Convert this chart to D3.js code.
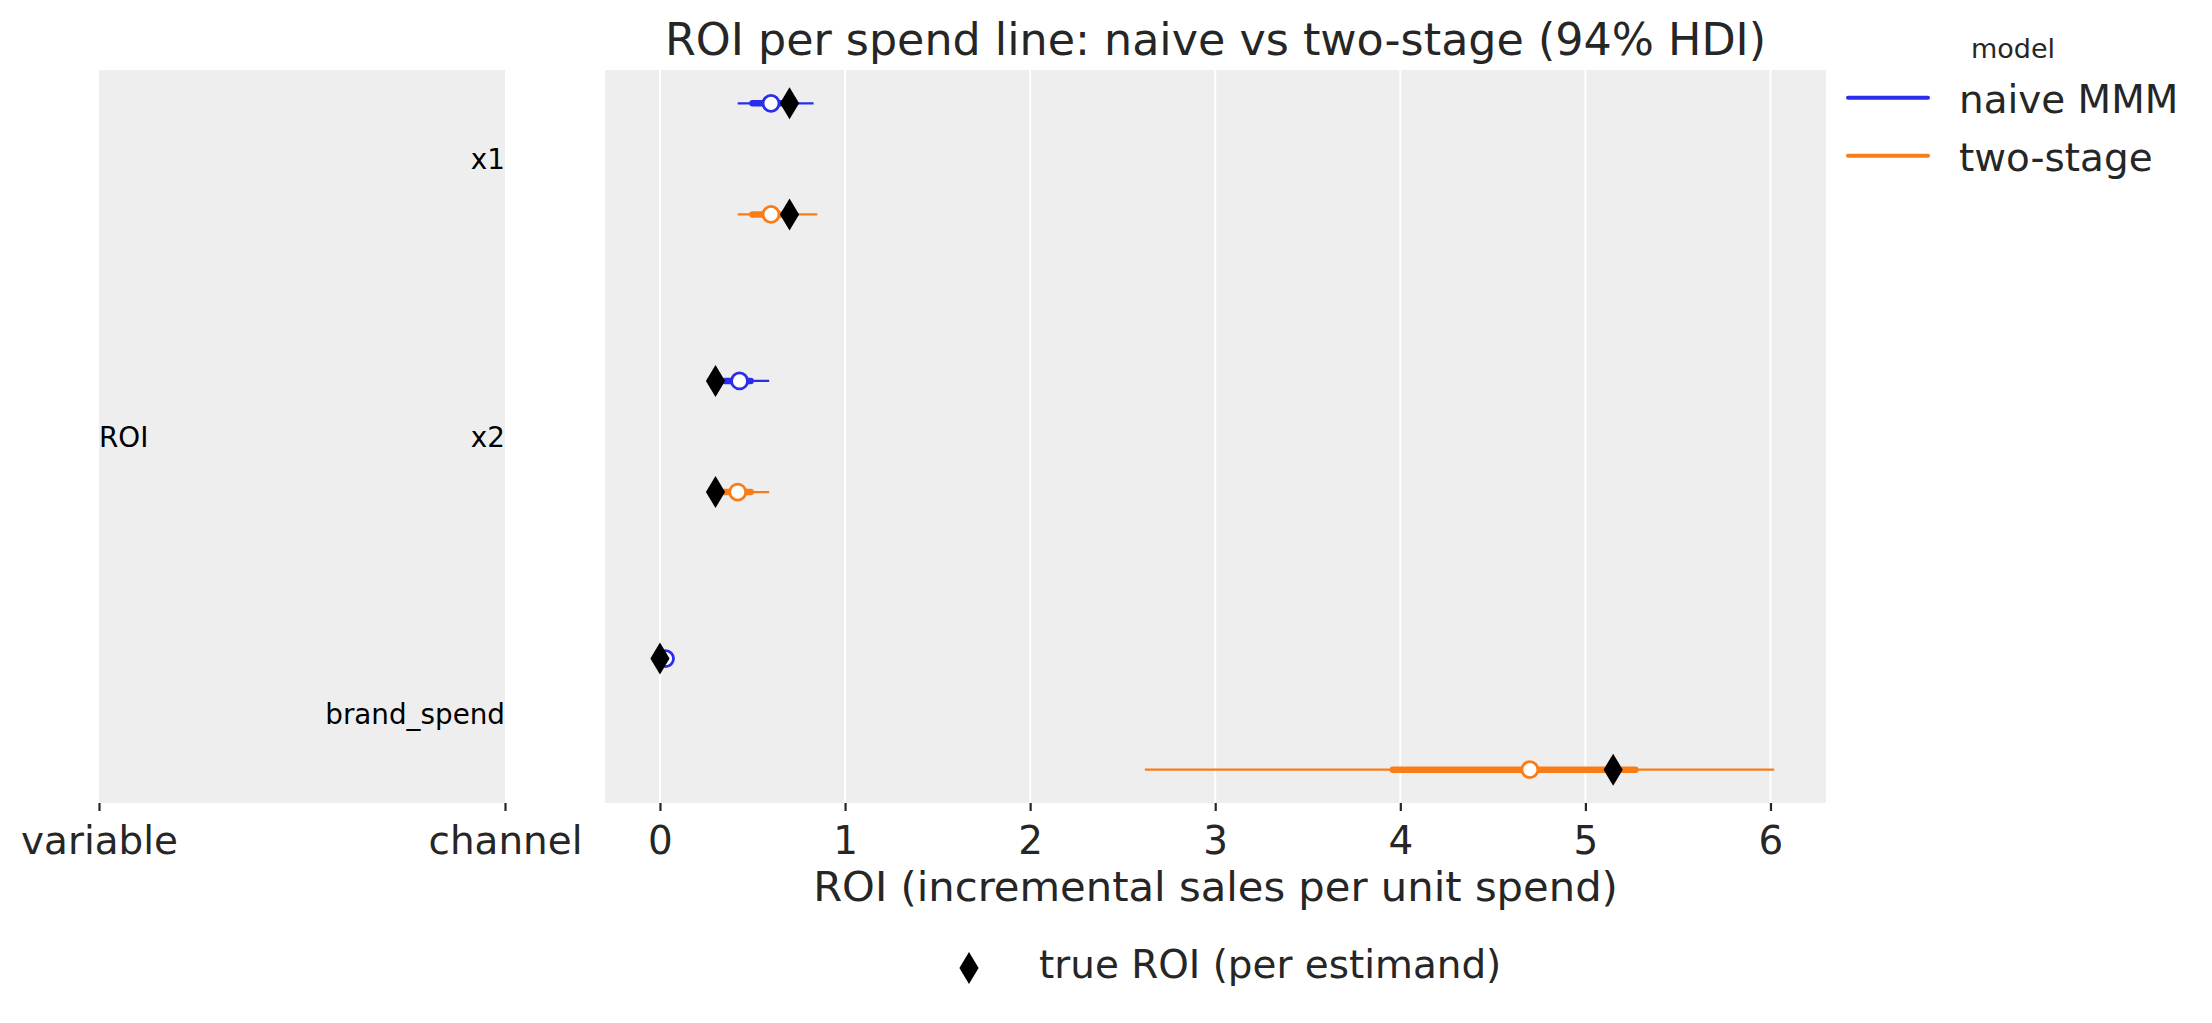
<!DOCTYPE html>
<html>
<head>
<meta charset="utf-8">
<script src="https://cdn.jsdelivr.net/npm/d3@7"></script>
<style>
  html, body { margin: 0; padding: 0; background: #ffffff; }
  svg { display: block; font-family: "DejaVu Sans", sans-serif; }
</style>
</head>
<body>
<svg id="chart" width="2212" height="1023"></svg>
<script>
// ---------------- data ----------------
const channels = ["x1", "x2", "brand_spend"];
const models = ["naive MMM", "two-stage"];
const modelColors = ["#2a2eec", "#fa7c17"];

// posterior medians
const naiveMedian    = [0.60, 0.43, 0.03];
const twoStageMedian = [0.60, 0.42, 4.70];
// 94% HDI (thin line)
const naiveHdiLow     = [0.42, 0.31, 0.00];
const naiveHdiHigh    = [0.83, 0.59, 0.07];
const twoStageHdiLow  = [0.42, 0.30, 2.62];
const twoStageHdiHigh = [0.85, 0.59, 6.02];
// inner interval (thick line)
const naiveInnerLow     = [0.50, 0.35, 0.01];
const naiveInnerHigh    = [0.68, 0.49, 0.05];
const twoStageInnerLow  = [0.50, 0.35, 3.96];
const twoStageInnerHigh = [0.68, 0.49, 5.27];
// true ROI per estimand
const naiveTrueRoi    = [0.70, 0.30, 0.00];
const twoStageTrueRoi = [0.70, 0.30, 5.15];

const xTicks = [0, 1, 2, 3, 4, 5, 6];
const leftTicks = ["variable", "channel"];

const title = "ROI per spend line: naive vs two-stage (94% HDI)";
const xLabel = "ROI (incremental sales per unit spend)";
const legendTitle = "model";
const trueLabel = "true ROI (per estimand)";
const variableName = "ROI";

// assemble rows
const medians = [naiveMedian, twoStageMedian];
const hdiLow = [naiveHdiLow, twoStageHdiLow];
const hdiHigh = [naiveHdiHigh, twoStageHdiHigh];
const innerLow = [naiveInnerLow, twoStageInnerLow];
const innerHigh = [naiveInnerHigh, twoStageInnerHigh];
const truths = [naiveTrueRoi, twoStageTrueRoi];
const rows = [];
channels.forEach((c, g) => {
  models.forEach((m, k) => {
    rows.push({channel: c, model: k, pos: g * 5 + k * 2,
      median: medians[k][g], lo: hdiLow[k][g], hi: hdiHigh[k][g],
      ilo: innerLow[k][g], ihi: innerHigh[k][g], truth: truths[k][g]});
  });
});

// ---------------- layout ----------------
const svg = d3.select("#chart");
const textColor = "#262626";
const bg = "#eeeeee";
const plot = {left: 605, right: 1826, top: 70, bottom: 803};
const leftPanel = {left: 99, right: 505};

const x = d3.scaleLinear().domain([-0.297, 6.30]).range([plot.left, plot.right]);
const y = d3.scaleLinear().domain([-0.6, 12.6]).range([plot.top, plot.bottom]);
const xLeft = d3.scalePoint().domain(leftTicks).range([leftPanel.left, leftPanel.right]);

// backgrounds
svg.append("rect").attr("x", leftPanel.left).attr("y", plot.top)
  .attr("width", leftPanel.right - leftPanel.left).attr("height", plot.bottom - plot.top).attr("fill", bg);
svg.append("rect").attr("x", plot.left).attr("y", plot.top)
  .attr("width", plot.right - plot.left).attr("height", plot.bottom - plot.top).attr("fill", bg);

// gridlines
svg.append("g").selectAll("line").data(xTicks).join("line")
  .attr("x1", d => x(d)).attr("x2", d => x(d))
  .attr("y1", plot.top).attr("y2", plot.bottom)
  .attr("stroke", "#ffffff").attr("stroke-width", 2);

// axes
function styleAxis(g) {
  g.select(".domain").remove();
  g.selectAll(".tick line").attr("stroke", textColor).attr("stroke-width", 2.2);
  g.selectAll(".tick text").attr("fill", textColor).attr("font-size", 38.9)
    .attr("font-family", "DejaVu Sans");
}
svg.append("g").attr("transform", `translate(0,${plot.bottom})`)
  .call(d3.axisBottom(x).tickValues(xTicks).tickFormat(d3.format("d")).tickSize(8).tickPadding(15))
  .call(styleAxis);
svg.append("g").attr("transform", `translate(0,${plot.bottom})`)
  .call(d3.axisBottom(xLeft).tickSize(8).tickPadding(15))
  .call(styleAxis);

// left panel labels
svg.append("text").attr("x", leftPanel.left).attr("y", y(6)).attr("dy", "0.36em")
  .attr("font-size", 27.8).attr("fill", "#000").text(variableName);
svg.append("g").selectAll("text").data(channels).join("text")
  .attr("x", leftPanel.right).attr("y", (d, i) => y(i * 5 + 1)).attr("dy", "0.36em")
  .attr("text-anchor", "end").attr("font-size", 27.8).attr("fill", "#000").text(d => d);

// intervals
const marks = svg.append("g");
marks.selectAll("line.hdi").data(rows).join("line").attr("class", "hdi")
  .attr("x1", d => x(d.lo)).attr("x2", d => x(d.hi))
  .attr("y1", d => y(d.pos)).attr("y2", d => y(d.pos))
  .attr("stroke", d => modelColors[d.model]).attr("stroke-width", 2.2);
marks.selectAll("line.inner").data(rows).join("line").attr("class", "inner")
  .attr("x1", d => x(d.ilo)).attr("x2", d => x(d.ihi))
  .attr("y1", d => y(d.pos)).attr("y2", d => y(d.pos))
  .attr("stroke", d => modelColors[d.model]).attr("stroke-width", 6.5)
  .attr("stroke-linecap", "round");
marks.selectAll("circle").data(rows).join("circle")
  .attr("cx", d => x(d.median)).attr("cy", d => y(d.pos)).attr("r", 8)
  .attr("fill", "#ffffff").attr("stroke", d => modelColors[d.model]).attr("stroke-width", 2.8);

// thin diamond symbol
const thinDiamond = {
  draw(ctx, size) {
    const h = Math.sqrt(size);
    const w = h * 0.6;
    ctx.moveTo(0, -h / 2); ctx.lineTo(w / 2, 0); ctx.lineTo(0, h / 2); ctx.lineTo(-w / 2, 0); ctx.closePath();
  }
};
const diamondPath = d3.symbol().type(thinDiamond).size(32 * 32);
marks.selectAll("path.truth").data(rows).join("path").attr("class", "truth")
  .attr("transform", d => `translate(${x(d.truth)},${y(d.pos)})`)
  .attr("d", diamondPath).attr("fill", "#000");

// title and axis label
svg.append("text").attr("x", (plot.left + plot.right) / 2).attr("y", 55)
  .attr("text-anchor", "middle").attr("font-size", 44.4).attr("fill", textColor).text(title);
svg.append("text").attr("x", (plot.left + plot.right) / 2).attr("y", 901)
  .attr("text-anchor", "middle").attr("font-size", 41.7).attr("fill", textColor).text(xLabel);

// model legend
const legend = svg.append("g");
legend.append("text").attr("x", 2013).attr("y", 58).attr("text-anchor", "middle")
  .attr("font-size", 27).attr("fill", textColor).text(legendTitle);
const legY = d3.scalePoint().domain(models).range([97.7, 155.7]);
legend.selectAll("line").data(models).join("line")
  .attr("x1", 1848).attr("x2", 1928).attr("y1", d => legY(d)).attr("y2", d => legY(d))
  .attr("stroke", (d, i) => modelColors[i]).attr("stroke-width", 4).attr("stroke-linecap", "round");
legend.selectAll("text.item").data(models).join("text").attr("class", "item")
  .attr("x", 1959).attr("y", d => legY(d) + 15)
  .attr("font-size", 38.9).attr("fill", textColor).text(d => d);

// true ROI legend
svg.append("path").attr("transform", "translate(969,968)").attr("d", diamondPath).attr("fill", "#000");
svg.append("text").attr("x", 1039).attr("y", 978).attr("font-size", 38.9).attr("fill", textColor).text(trueLabel);
</script>
</body>
</html>
